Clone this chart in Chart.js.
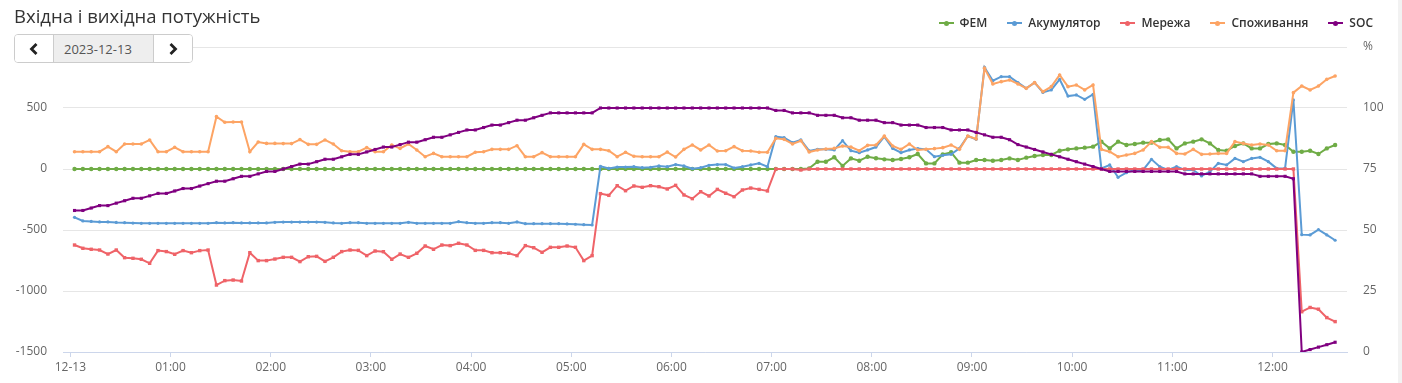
<!DOCTYPE html>
<html>
<head>
<meta charset="utf-8">
<script src="https://cdn.jsdelivr.net/npm/chart.js@4.4.1/dist/chart.umd.min.js"></script>
<style>
html,body{margin:0;padding:0;background:#fff;width:1402px;height:383px;overflow:hidden;font-family:'Open Sans',sans-serif;}
#wrap{position:relative;width:1402px;height:383px;}
#c{position:absolute;left:0;top:0;}
#title{position:absolute;left:14px;top:6px;font-size:18.5px;line-height:20px;color:#333;white-space:nowrap;}
#picker{position:absolute;left:14px;top:34px;height:29px;display:flex;background:#fff;border:1px solid #ccc;border-radius:4px;box-sizing:border-box;overflow:hidden;z-index:2;}
#picker .btn{width:38px;height:27px;display:flex;align-items:center;justify-content:center;background:#fff;}
#picker .date{width:101px;height:27px;display:flex;align-items:center;justify-content:flex-start;padding-left:10px;box-sizing:border-box;background:#eee;border-left:1px solid #ccc;border-right:1px solid #ccc;font-size:13px;color:#555;}
#legend{position:absolute;top:14px;right:29px;display:flex;align-items:center;gap:20px;z-index:2;}
#legend .item{display:flex;align-items:center;font-size:12px;font-weight:600;color:#333;line-height:18px;white-space:nowrap;}
#legend .ico{position:relative;display:inline-block;width:15px;height:2px;margin-right:6px;}
#legend .ico::after{content:'';position:absolute;left:5px;top:-1.5px;width:5px;height:5px;border-radius:50%;background:inherit;}
#strip{position:absolute;right:0;top:0;width:4px;height:383px;background:#f2f2f2;}
</style>
</head>
<body>
<div id="wrap">
  <canvas id="c" width="1402" height="383"></canvas>
  <div id="title">Вхідна і вихідна потужність</div>
  <div id="picker">
    <div class="btn"><svg width="10" height="14" viewBox="0 0 10 14"><polyline points="7.5,2 2.5,7 7.5,12" fill="none" stroke="#222" stroke-width="2.8"/></svg></div>
    <div class="date">2023-12-13</div>
    <div class="btn"><svg width="10" height="14" viewBox="0 0 10 14"><polyline points="2.5,2 7.5,7 2.5,12" fill="none" stroke="#222" stroke-width="2.8"/></svg></div>
  </div>
  <div id="legend"></div>
  <div id="strip"></div>
</div>
<script>
// ---- DATA ----
const seriesNames = ["ФЕМ", "Акумулятор", "Мережа", "Споживання", "SOC"];
const seriesColors = ["#6fac46", "#5b9bd5", "#ef6368", "#fda464", "#800080"];

const times = [
"00:02:30","00:07:30","00:12:30","00:17:30","00:22:30","00:27:30","00:32:30","00:37:30","00:42:30","00:47:30","00:52:30","00:57:30",
"01:02:30","01:07:30","01:12:30","01:17:30","01:22:30","01:27:30","01:32:30","01:37:30","01:42:30","01:47:30","01:52:30","01:57:30",
"02:02:30","02:07:30","02:12:30","02:17:30","02:22:30","02:27:30","02:32:30","02:37:30","02:42:30","02:47:30","02:52:30","02:57:30",
"03:02:30","03:07:30","03:12:30","03:17:30","03:22:30","03:27:30","03:32:30","03:37:30","03:42:30","03:47:30","03:52:30","03:57:30",
"04:02:30","04:07:30","04:12:30","04:17:30","04:22:30","04:27:30","04:32:30","04:37:30","04:42:30","04:47:30","04:52:30","04:57:30",
"05:02:30","05:07:30","05:12:30","05:17:30","05:22:30","05:27:30","05:32:30","05:37:30","05:42:30","05:47:30","05:52:30","05:57:30",
"06:02:30","06:07:30","06:12:30","06:17:30","06:22:30","06:27:30","06:32:30","06:37:30","06:42:30","06:47:30","06:52:30","06:57:30",
"07:02:30","07:07:30","07:12:30","07:17:30","07:22:30","07:27:30","07:32:30","07:37:30","07:42:30","07:47:30","07:52:30","07:57:30",
"08:02:30","08:07:30","08:12:30","08:17:30","08:22:30","08:27:30","08:32:30","08:37:30","08:42:30","08:47:30","08:52:30","08:57:30",
"09:02:30","09:07:30","09:12:30","09:17:30","09:22:30","09:27:30","09:32:30","09:37:30","09:42:30","09:47:30","09:52:30","09:57:30",
"10:02:30","10:07:30","10:12:30","10:17:30","10:22:30","10:27:30","10:32:30","10:37:30","10:42:30","10:47:30","10:52:30","10:57:30",
"11:02:30","11:07:30","11:12:30","11:17:30","11:22:30","11:27:30","11:32:30","11:37:30","11:42:30","11:47:30","11:52:30","11:57:30",
"12:02:30","12:07:30","12:12:30","12:17:30","12:22:30","12:27:30","12:32:30","12:37:30"
];

const pv = [
0,0,0,0,0,0,0,0,0,0,0,
0,0,0,0,0,0,0,0,0,0,0,
0,0,0,0,0,0,0,0,0,0,0,
0,0,0,0,0,0,0,0,0,0,0,
0,0,0,0,0,0,0,0,0,0,0,
0,0,0,0,0,0,0,0,0,0,0,
0,0,0,0,0,0,0,0,0,0,0,
0,0,0,0,0,0,0,0,0,0,0,
5,60,60,96,25,87,68,101,
88,79,74,82,96,123,46,46,120,137,52,52,74,74,68,74,87,74,93,107,115,115,150,161,169,175,183,
224,169,224,197,205,216,216,238,243,169,210,224,243,210,156,150,189,210,169,169,205,210,197,142,142,150,123,169,197
];

const battery = [
-396,-426,-430,-434,-434,-438,-440,-443,-445,-445,-445,-445,-445,-445,-445,-445,-445,-440,-442,-440,-442,-442,-442,-442,-437,-435,-435,-435,-435,-435,-437,-442,-445,-440,
-440,-445,-445,-445,-445,-445,-437,-445,-445,-445,-445,-445,-432,-440,-445,-445,-440,-440,-445,-434,-448,-448,-448,-448,-448,-450,-453,-456,-459,
22,5,16,16,
19,11,14,25,19,36,25,3,11,30,36,36,8,19,33,46,19,265,257,216,238,148,161,161,156,232,150,134,156,
180,265,169,134,156,167,161,101,112,120,169,270,243,833,724,757,757,708,661,708,628,648,735,598,607,571,612,
5,33,-68,-30,-8,-8,79,19,-8,19,-8,-8,-57,-22,46,33,87,60,87,96,60,5,5,566,
-538,-540,-497,-540,-584
];

const grid = [
-623,-650,-658,-664,-697,-664,-727,-732,-740,-773,-669,-677,-699,-669,-686,-669,-664,-951,-915,-910,-918,-686,-751,-751,-738,-724,-724,-759,-719,-716,-757,-724,-677,-664,
-667,-710,-672,-678,-740,-697,-724,-691,-631,-658,-623,-628,-609,-623,-667,-667,-686,-686,-691,-710,-628,-645,-683,-642,-642,-631,-642,-751,-710,
-202,-216,-137,-178,
-139,-150,-137,-145,-164,-134,-213,-243,-186,-221,-167,-199,-227,-172,-156,-167,-180,
0,0,0,-8,0,0,0,0,0,0,0,0,0,0,0,0,0,0,0,0,0,
0,0,0,0,0,0,0,0,0,0,0,0,0,0,0,0,0,0,0,0,0,
0,0,0,0,0,0,0,0,0,0,0,0,0,0,0,0,0,0,0,0,0,
-1170,-1135,-1149,-1218,-1251
];

const consumption = [
142,142,142,142,183,142,205,205,205,238,142,142,178,142,142,142,142,429,383,385,385,142,221,210,210,208,208,241,202,202,238,205,
150,142,
142,175,142,142,197,169,205,156,101,128,101,101,101,101,137,142,161,161,161,191,101,101,134,101,101,101,101,202,161,161,150,101,137,
104,101,101,101,139,98,161,197,156,197,148,150,183,150,148,137,137,251,243,205,232,139,156,164,169,189,180,150,194,
197,270,189,161,205,156,161,167,175,197,161,270,246,825,697,716,730,697,661,708,634,675,771,675,689,648,689,
161,142,101,115,128,156,224,178,178,128,123,161,120,123,128,128,224,210,197,205,197,150,150,626,680,648,680,735,762
];

const soc = [
58,58,59,60,60,61,62,63,63,64,65,65,66,67,67,68,69,70,70,71,72,72,73,74,74,75,76,77,77,78,79,79,80,81,
81,82,83,84,84,85,86,86,87,88,88,89,90,91,91,92,93,93,94,95,95,96,97,98,98,98,98,98,98,
100,100,100,100,100,100,100,100,100,100,100,100,100,100,100,100,100,100,100,100,100,
99,99,98,98,98,97,97,97,96,96,95,95,
95,94,94,93,93,93,92,92,92,91,91,91,90,89,88,88,87,85,84,83,82,81,80,79,78,77,76,75,74,74,
74,74,74,74,74,74,74,
73,73,73,73,73,73,73,73,73,
72,72,72,72,
71,
0,1,2,3,4
];

const xTicks = ["00:00","01:00","02:00","03:00","04:00","05:00","06:00","07:00","08:00","09:00","10:00","11:00","12:00"];
const xTickLabels = ["12-13","01:00","02:00","03:00","04:00","05:00","06:00","07:00","08:00","09:00","10:00","11:00","12:00"];
const yLeftTicks = [-1500,-1000,-500,0,500,1000];
const yLeftLabels = ["-1500","-1000","-500","0","500",""];
const yRightTicks = [0,25,50,75,100,125];
const yRightLabels = ["0","25","50","75","100","%"];
const xRange = ["-00:04:24","12:44:36"];

// ---- helpers ----
function toMin(s){
  const neg = s[0] === '-';
  const p = (neg ? s.slice(1) : s).split(':').map(Number);
  const m = p[0]*60 + p[1] + (p[2]||0)/60;
  return neg ? -m : m;
}
const xs = times.map(toMin);
function pts(arr){ return arr.map((v,i)=>({x: xs[i], y: v})); }

// legend (HTML)
const lg = document.getElementById('legend');
seriesNames.forEach((n,i)=>{
  const it = document.createElement('div'); it.className='item';
  const ic = document.createElement('span'); ic.className='ico'; ic.style.background = seriesColors[i];
  it.appendChild(ic);
  it.appendChild(document.createTextNode(n));
  lg.appendChild(it);
});

const FONT = {family: "'Open Sans', sans-serif", size: 12};
function ds(idx, arr, axis, style, r, order){
  return {
    label: seriesNames[idx], data: pts(arr), yAxisID: axis,
    borderColor: seriesColors[idx], backgroundColor: seriesColors[idx],
    pointBackgroundColor: seriesColors[idx], pointBorderColor: seriesColors[idx],
    borderWidth: 2, pointRadius: r, pointStyle: style, pointBorderWidth: 0,
    tension: 0, order: order
  };
}

new Chart(document.getElementById('c'), {
  type: 'line',
  data: {
    datasets: [
      ds(4, soc, 'y1', 'rect', 2.2, 0),
      ds(3, consumption, 'y', 'circle', 1.8, 1),
      ds(2, grid, 'y', 'rect', 2.4, 2),
      ds(1, battery, 'y', 'circle', 1.6, 3),
      ds(0, pv, 'y', 'circle', 2.2, 4)
    ]
  },
  options: {
    responsive: false, animation: false, devicePixelRatio: 1,
    layout: {padding: {top: 47, left: 0, right: 0, bottom: 0}},
    plugins: {legend: {display: false}, tooltip: {enabled: false}},
    scales: {
      x: {
        type: 'linear', min: toMin(xRange[0]), max: toMin(xRange[1]),
        afterBuildTicks: s => { s.ticks = xTicks.map(t => ({value: toMin(t)})); },
        afterFit: s => { s.height = 31; },
        ticks: {
          autoSkip: false, maxRotation: 0, color: '#666', font: FONT, padding: 3,
          callback: v => { const k = xTicks.findIndex(t => Math.abs(toMin(t) - v) < 0.01); return k >= 0 ? xTickLabels[k] : ''; }
        },
        grid: {drawOnChartArea: false, drawTicks: true, tickLength: 5, color: '#ccd6eb'},
        border: {display: true, color: '#ccd6eb'}
      },
      y: {
        position: 'left', min: -1500, max: 1000,
        afterBuildTicks: s => { s.ticks = yLeftTicks.map(v => ({value: v})); },
        afterFit: s => { s.width = 63; },
        ticks: {color: '#666', font: FONT, padding: 16, callback: v => yLeftLabels[yLeftTicks.indexOf(v)]},
        grid: {color: '#e6e6e6', drawTicks: false},
        border: {display: false}
      },
      y1: {
        position: 'right', min: 0, max: 125,
        afterBuildTicks: s => { s.ticks = yRightTicks.map(v => ({value: v})); },
        afterFit: s => { s.width = 55; },
        ticks: {color: '#666', font: FONT, padding: 16, callback: v => yRightLabels[yRightTicks.indexOf(v)]},
        grid: {drawOnChartArea: false, drawTicks: false},
        border: {display: false}
      }
    }
  }
});
</script>
</body>
</html>
